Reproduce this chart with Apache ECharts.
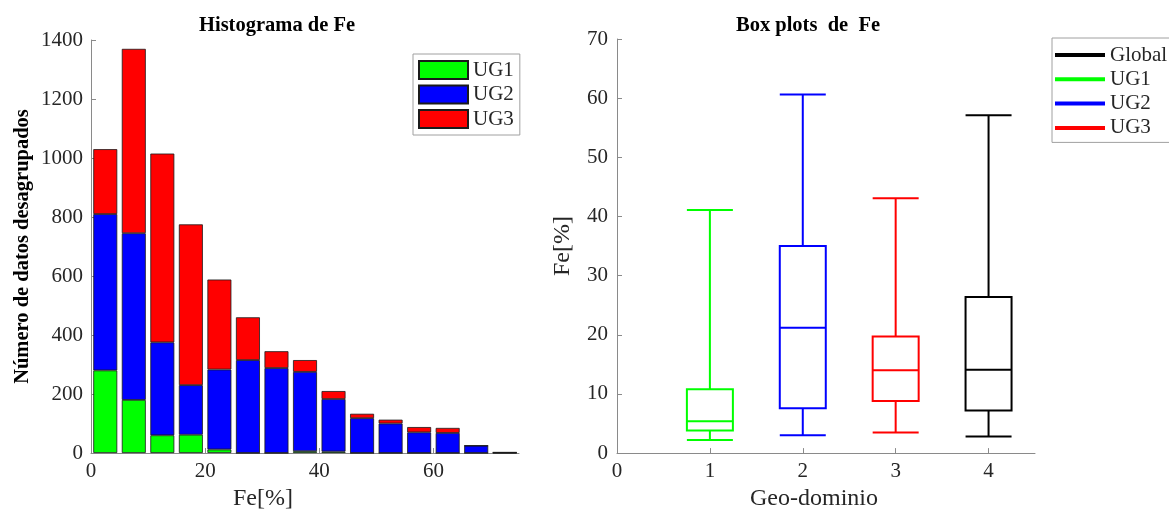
<!DOCTYPE html>
<html><head><meta charset="utf-8">
<script src="https://cdn.jsdelivr.net/npm/echarts@6/dist/echarts.min.js"></script>
<style>html,body{margin:0;padding:0;background:#fff}#c{width:1169px;height:516px}</style>
</head><body><div id="c"></div>
<script>
// ---------- Histogram data ----------
const binCenters = ['2.5', '7.5', '12.5', '17.5', '22.5', '27.5', '32.5', '37.5', '42.5', '47.5', '52.5', '57.5', '62.5', '67.5', '72.5'];
const ug1Counts = [280, 180, 60, 62, 12, 0, 0, 6, 5, 0, 0, 0, 0, 0, 0];
const ug2Counts = [530, 565, 315, 168, 271, 315, 288, 269, 178, 118, 100, 70, 68, 25, 2];
const ug3Counts = [220, 625, 640, 545, 305, 145, 57, 40, 27, 15, 13, 18, 17, 0, 0];
const histSeriesNames = ['UG1', 'UG2', 'UG3'];
const histXTickValues = [0, 20, 40, 60];

// ---------- Box plot data ----------
const boxNames = ['UG1', 'UG2', 'UG3', 'Global'];
const boxPositions = [1, 2, 3, 4];
const boxMin = [2.2, 3.0, 3.5, 2.8];
const boxQ1 = [3.8, 7.6, 8.8, 7.2];
const boxMedian = [5.4, 21.2, 14.0, 14.1];
const boxQ3 = [10.8, 35.0, 19.7, 26.4];
const boxMax = [41.1, 60.6, 43.1, 57.1];
const boxXTickValues = [0, 1, 2, 3, 4];
const boxLegendOrder = ['Global', 'UG1', 'UG2', 'UG3'];

// ---------- styles ----------
const colorMap = { UG1: '#00ff00', UG2: '#0000ff', UG3: '#ff0000', Global: '#000000' };
const FONT = '"Liberation Serif", "DejaVu Serif", serif';
const axisLineStyle = { color: '#8a8a8a', width: 1 };
const plainNum = v => String(v);
const tickLabel = { color: '#262626', fontFamily: FONT, fontSize: 21, formatter: plainNum };

const histCounts = [ug1Counts, ug2Counts, ug3Counts];
const histSeries = histSeriesNames.map((name, i) => ({
  name: name,
  type: 'bar',
  stack: 'hist',
  xAxisIndex: 0, yAxisIndex: 0,
  barWidth: '84%',
  itemStyle: { color: colorMap[name], borderColor: '#1a1a1a', borderWidth: 0.8 },
  emphasis: { disabled: true },
  data: histCounts[i]
}));

const boxData = boxNames.map((n, i) => ({
  value: [boxPositions[i], boxMin[i], boxQ1[i], boxMedian[i], boxQ3[i], boxMax[i]],
  itemStyle: { color: 'rgba(255,255,255,0)', borderColor: colorMap[n], borderWidth: 2 }
}));

const option = {
  backgroundColor: '#ffffff',
  animation: false,
  title: [
    { text: 'Histograma de Fe', left: 272, top: 10, textAlign: 'center',
      textStyle: { fontFamily: FONT, fontSize: 20.5, fontWeight: 'bold', color: '#000' } },
    { text: 'Box plots  de  Fe', left: 803, top: 10, textAlign: 'center',
      textStyle: { fontFamily: FONT, fontSize: 20.5, fontWeight: 'bold', color: '#000' } }
  ],
  legend: [
    {
      data: histSeriesNames,
      orient: 'vertical', left: 413, top: 54,
      icon: 'rect',
      itemWidth: 49, itemHeight: 18, itemGap: 3.5,
      padding: [5.5, 6, 5.5, 5],
      borderColor: '#a0a0a0', borderWidth: 1,
      selectedMode: false,
      textStyle: { fontFamily: FONT, fontSize: 21, color: '#262626' }
    },
    {
      data: boxLegendOrder,
      orient: 'vertical', left: 1052, top: 38,
      icon: 'rect',
      itemWidth: 50, itemHeight: 4, itemGap: 3.3,
      padding: [6.5, 30, 4, 3],
      borderColor: '#a0a0a0', borderWidth: 1,
      selectedMode: false,
      itemStyle: { borderWidth: 0 },
      textStyle: { fontFamily: FONT, fontSize: 21, color: '#262626' }
    }
  ],
  grid: [
    { left: 91, top: 40, width: 428, height: 413, containLabel: false },
    { left: 617, top: 39, width: 418, height: 416, containLabel: false }
  ],
  xAxis: [
    {
      // category axis carrying the histogram bins (15 bins of width 5 over 0..75)
      gridIndex: 0, type: 'category', data: binCenters, boundaryGap: true,
      position: 'bottom', show: false
    },
    {
      gridIndex: 0, type: 'value', min: 0, max: 75, position: 'bottom',
      name: 'Fe[%]', nameLocation: 'middle', nameGap: 30,
      nameTextStyle: { fontFamily: FONT, fontSize: 24, color: '#262626', padding: [0, 84, 0, 0] },
      axisLine: { show: true, onZero: false, lineStyle: axisLineStyle },
      axisTick: { show: true, inside: true, length: 5, lineStyle: axisLineStyle, customValues: histXTickValues },
      axisLabel: Object.assign({ margin: 8, customValues: histXTickValues }, tickLabel),
      splitLine: { show: false }
    },
    {
      gridIndex: 1, type: 'value', min: 0, max: 4.5, position: 'bottom',
      name: 'Geo-dominio', nameLocation: 'middle', nameGap: 32,
      nameTextStyle: { fontFamily: FONT, fontSize: 24, color: '#262626', padding: [0, 24, 0, 0] },
      axisLine: { show: true, onZero: false, lineStyle: axisLineStyle },
      axisTick: { show: true, inside: true, length: 5, lineStyle: axisLineStyle, customValues: boxXTickValues },
      axisLabel: Object.assign({ margin: 8, customValues: boxXTickValues }, tickLabel),
      splitLine: { show: false }
    }
  ],
  yAxis: [
    {
      gridIndex: 0, type: 'value', min: 0, max: 1400, interval: 200,
      name: 'Número de datos desagrupados', nameLocation: 'middle', nameGap: 58,
      nameTextStyle: { fontFamily: FONT, fontSize: 20.5, fontWeight: 'bold', color: '#000' },
      axisLine: { show: true, lineStyle: axisLineStyle },
      axisTick: { show: true, inside: true, length: 5, lineStyle: axisLineStyle },
      axisLabel: Object.assign({ margin: 8 }, tickLabel),
      splitLine: { show: false }
    },
    {
      gridIndex: 1, type: 'value', min: 0, max: 70, interval: 10,
      name: 'Fe[%]', nameLocation: 'middle', nameGap: 42,
      nameTextStyle: { fontFamily: FONT, fontSize: 24, color: '#262626' },
      axisLine: { show: true, lineStyle: axisLineStyle },
      axisTick: { show: true, inside: true, length: 5, lineStyle: axisLineStyle },
      axisLabel: Object.assign({ margin: 9 }, tickLabel),
      splitLine: { show: false }
    }
  ],
  series: histSeries.concat([
    {
      name: 'Box plots',
      type: 'boxplot',
      xAxisIndex: 2, yAxisIndex: 1,
      boxWidth: [46, 46],
      emphasis: { disabled: true },
      data: boxData
    },
    {
      name: 'Global', type: 'line', xAxisIndex: 2, yAxisIndex: 1,
      color: colorMap.Global, symbol: 'none', data: []
    }
  ])
};

const chart = echarts.init(document.getElementById('c'), null, { renderer: 'canvas' });
chart.setOption(option);
</script>
</body></html>
